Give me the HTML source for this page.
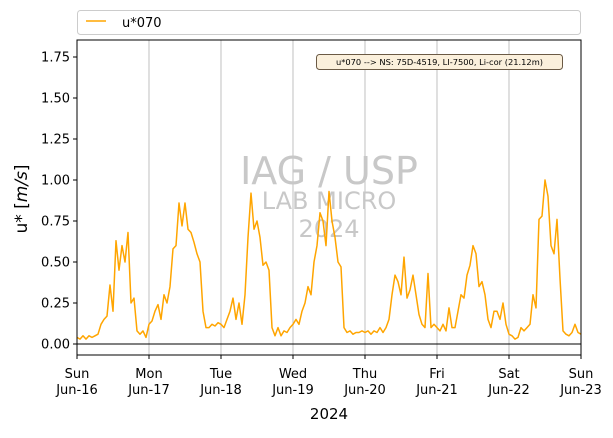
<!DOCTYPE html>
<html><head><meta charset="utf-8"><style>
body{margin:0;background:#fff;font-family:"Liberation Sans","DejaVu Sans",sans-serif}
</style></head><body>
<svg width="613" height="433" font-family="DejaVu Sans, Liberation Sans, sans-serif">
<g id="root"></g>
</svg>
<script>
const dayLabels=["Sun","Mon","Tue","Wed","Thu","Fri","Sat","Sun"];
const dateLabels=["Jun-16","Jun-17","Jun-18","Jun-19","Jun-20","Jun-21","Jun-22","Jun-23"];
const yTicks=[0,0.25,0.5,0.75,1.0,1.25,1.5,1.75];
const day1=[0.04,0.03,0.05,0.03,0.05,0.04,0.05,0.06,0.12,0.15,0.17,0.36,0.2,0.63,0.45,0.6,0.5,0.68,0.25,0.28,0.08,0.06,0.08,0.04];
const day2=[0.12,0.14,0.2,0.24,0.15,0.3,0.25,0.35,0.58,0.6,0.86,0.72,0.86,0.7,0.68,0.62,0.55,0.5,0.2,0.1,0.1,0.12,0.11,0.13];
const day3=[0.12,0.1,0.15,0.2,0.28,0.15,0.25,0.12,0.3,0.65,0.92,0.7,0.75,0.65,0.48,0.5,0.45,0.1,0.05,0.1,0.05,0.08,0.07,0.1];
const day4=[0.12,0.15,0.12,0.2,0.25,0.35,0.3,0.5,0.6,0.8,0.75,0.6,0.93,0.75,0.65,0.5,0.47,0.1,0.07,0.08,0.06,0.07,0.07,0.08];
const day5=[0.07,0.08,0.06,0.08,0.07,0.1,0.07,0.1,0.15,0.3,0.42,0.38,0.3,0.53,0.28,0.33,0.42,0.3,0.18,0.12,0.1,0.43,0.1,0.12];
const day6=[0.1,0.08,0.12,0.08,0.22,0.1,0.1,0.2,0.3,0.28,0.42,0.48,0.6,0.55,0.35,0.38,0.3,0.15,0.1,0.2,0.2,0.15,0.25,0.12];
const day7=[0.06,0.05,0.03,0.04,0.1,0.08,0.1,0.12,0.3,0.22,0.76,0.78,1.0,0.9,0.6,0.55,0.76,0.4,0.08,0.06,0.05,0.07,0.12,0.07,0.06];
const series=[].concat(day1,day2,day3,day4,day5,day6,day7);

const NS="http://www.w3.org/2000/svg";
const root=document.getElementById('root');
const L=77,R=581,T=40,B=355;
const x=h=>L+(R-L)*h/168;
const y=v=>344-164*v;
function mk(tag,attrs,parent){const e=document.createElementNS(NS,tag);for(const k in attrs)e.setAttribute(k,attrs[k]);(parent||root).appendChild(e);return e;}

// legend
const lg=mk('g',{});


mk('rect',{x:77.5,y:10.5,width:503,height:24,rx:3,fill:'#fff',stroke:'#ccc'},lg);
const ll=mk('line',{x1:86,y1:21,x2:106,y2:21,stroke:'orange','stroke-width':1.5},lg);


const lt=mk('text',{x:122,y:27,'font-size':13,fill:'#000'},lg);lt.textContent='u*070';



// grid
for(let d=1;d<7;d++){const g=mk('line',{x1:x(d*24),y1:T,x2:x(d*24),y2:B,stroke:'#b0b0b0','stroke-width':0.8});

}

// watermark
const wm=[['IAG / USP',184,38],['LAB MICRO',209,24],['2024',237,24]];
wm.forEach(w=>{const t=mk('text',{x:329,y:w[1],'font-size':w[2],fill:'#c8c8c8','text-anchor':'middle'});t.textContent=w[0];

});

// zero line
const zl=mk('line',{x1:L,y1:y(0),x2:R,y2:y(0),stroke:'#000','stroke-width':1});



// series
const pts=series.map((v,i)=>x(i).toFixed(1)+','+y(v).toFixed(1)).join(' ');
const pl=mk('polyline',{points:pts,fill:'none',stroke:'orange','stroke-width':1.5,'stroke-linejoin':'round'});



// annotation
const an=mk('g',{});


mk('rect',{x:316.5,y:54.5,width:246,height:15,rx:3,fill:'#fbf0dc',stroke:'#6b5a45'},an);
const at=mk('text',{x:439.5,y:65,'font-size':8.3,'text-anchor':'middle',fill:'#000'},an);at.textContent='u*070 --> NS: 75D-4519, LI-7500, Li-cor (21.12m)';

// frame
const fr=mk('rect',{x:L,y:T,width:R-L,height:B-T,fill:'none',stroke:'#000','stroke-width':1});



// y ticks
yTicks.forEach(v=>{mk('line',{x1:L-4,y1:y(v),x2:L,y2:y(v),stroke:'#000'});
const t=mk('text',{x:L-7,y:y(v)+4.5,'font-size':13,'text-anchor':'end'});t.textContent=v.toFixed(2);

});
// x ticks
dayLabels.forEach((d,i)=>{const xx=x(i*24);mk('line',{x1:xx,y1:B,x2:xx,y2:B+4,stroke:'#000'});
const t1=mk('text',{x:xx,y:378,'font-size':13,'text-anchor':'middle'});t1.textContent=d;


const t2=mk('text',{x:xx,y:394,'font-size':13,'text-anchor':'middle'});t2.textContent=dateLabels[i];

});

const xt=mk('text',{x:329,y:419,'font-size':15,'text-anchor':'middle'});xt.textContent='2024';


const yt=mk('text',{x:0,y:0,'font-size':17,'text-anchor':'middle',transform:'translate(27,199) rotate(-90)'});
yt.innerHTML='u* [<tspan font-style="italic">m/s</tspan>]';


</script>
</body></html>
